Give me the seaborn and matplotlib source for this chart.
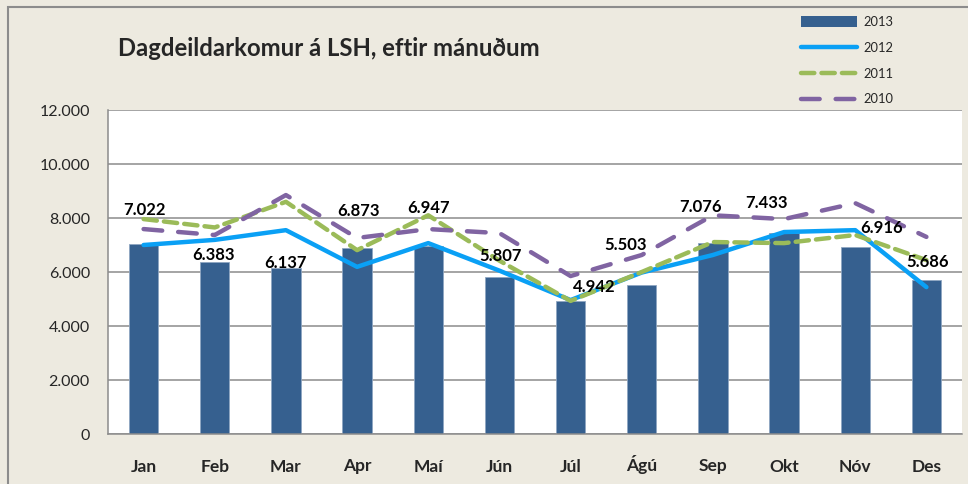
import numpy as np
import pandas as pd
import seaborn as sns
import matplotlib.pyplot as plt
from matplotlib.lines import Line2D
from matplotlib.patches import Patch, Rectangle
from matplotlib.ticker import FuncFormatter, FixedLocator

# gögn
manudir = ['Jan', 'Feb', 'Mar', 'Apr', 'Maí', 'Jún', 'Júl', 'Ágú', 'Sep', 'Okt', 'Nóv', 'Des']
ar_2013 = [7022, 6383, 6137, 6873, 6947, 5807, 4942, 5503, 7076, 7433, 6916, 5686]
ar_2012 = [7000, 7190, 7550, 6190, 7070, 6050, 4960, 5980, 6630, 7480, 7550, 5440]
ar_2011 = [7960, 7650, 8600, 6810, 8100, 6420, 4930, 6000, 7110, 7070, 7370, 6440]
ar_2010 = [7590, 7370, 8850, 7260, 7590, 7440, 5850, 6630, 8100, 7960, 8550, 7300]

# tilfærsla gildismerkja (punktar) - handvirkt eins og í frumritinu
merki_dx = [1, -1, 0, 1, 0, 1, 17, -12, -9, -13, 19, 1]
merki_dy = [25, 5, 4, 27, 28, 15, 10, 29, 26, 22, 14, 13]

df = pd.DataFrame({'manudur': manudir, 'nr': range(len(manudir)),
                   '2013': ar_2013, '2012': ar_2012, '2011': ar_2011, '2010': ar_2010})

bakgrunnur = '#EDEAE0'
sns.set_theme(style='white')
plt.rcParams['font.family'] = ['Lato', 'DejaVu Sans']

fig = plt.figure(figsize=(9.68, 4.84), dpi=100, facecolor=bakgrunnur)
ax = fig.add_axes([108 / 968, 50 / 484, 854 / 968, 324 / 484])
ax.set_facecolor('white')

# rammi um myndina
fig.patches.append(Rectangle((8 / 968, -0.1), 1.2, 1 - 7 / 484 + 0.1, transform=fig.transFigure,
                             fill=False, edgecolor='#8C8C8C', linewidth=1.5))

sns.barplot(data=df, x='nr', y='2013', color='#36608F', width=0.41, saturation=1,
            edgecolor='#8FA6C2', linewidth=0.6, ax=ax, zorder=2)

sns.lineplot(data=df, x='nr', y='2012', color='#0AA0F5', linewidth=3.2, ax=ax, zorder=3)
ax.lines[-1].set_solid_capstyle('round')
sns.lineplot(data=df, x='nr', y='2011', color='#9BBB59', linewidth=3.2, ax=ax, zorder=4)
ax.lines[-1].set_dashes((3, 1.6))
ax.lines[-1].set_dash_capstyle('round')
sns.lineplot(data=df, x='nr', y='2010', color='#8064A2', linewidth=3.2, ax=ax, zorder=5)
ax.lines[-1].set_dashes((4.2, 3.6))
ax.lines[-1].set_dash_capstyle('round')

# gildismerki
for i, v in enumerate(ar_2013):
    ax.annotate(f'{v:,}'.replace(',', '.'), (i, v), xytext=(merki_dx[i], merki_dy[i]),
                textcoords='offset points', ha='center', va='center',
                fontsize=12, fontweight='bold', color='black', zorder=6)

ax.set_ylim(0, 12000)
ax.set_xlim(-0.5, len(manudir) - 0.5)
ax.yaxis.set_major_locator(FixedLocator(np.arange(0, 12001, 2000)))
ax.yaxis.set_major_formatter(FuncFormatter(lambda v, p: f'{int(v):,}'.replace(',', '.')))
ax.grid(axis='y', color='#8C8C8C', linewidth=1.1, zorder=0)
ax.set_axisbelow(True)

ax.set_xticks(range(len(manudir)))
ax.set_xticklabels(manudir, fontsize=12.5, fontweight='bold', va='baseline')
ax.set_xticks(np.arange(-0.5, len(manudir), 1), minor=True)
ax.tick_params(axis='x', which='major', length=0, pad=27)
ax.tick_params(axis='x', which='minor', length=5, width=1, color='#8C8C8C', direction='out')
ax.tick_params(axis='y', length=5, width=1, color='#8C8C8C', direction='out', labelsize=11.5, pad=8)
ax.set_xlabel('')
ax.set_ylabel('')

for s in ['top', 'right']:
    ax.spines[s].set_visible(False)
for s in ['left', 'bottom']:
    ax.spines[s].set_color('#8C8C8C')
    ax.spines[s].set_linewidth(1.1)

fig.text(118 / 968, 1 - 48 / 484, 'Dagdeildarkomur á LSH, eftir mánuðum', fontsize=17.2,
         fontweight='bold', ha='left', va='center')

handles = [Patch(facecolor='#36608F', edgecolor='none'),
           Line2D([], [], color='#0AA0F5', linewidth=3.2, solid_capstyle='round'),
           Line2D([], [], color='#9BBB59', linewidth=3.2, dashes=(3, 1.6), dash_capstyle='round'),
           Line2D([], [], color='#8064A2', linewidth=3.2, dashes=(4.2, 3.6), dash_capstyle='round')]
leg = fig.legend(handles, ['2013', '2012', '2011', '2010'], loc='upper left',
                 bbox_to_anchor=(789 / 968, 1 - 4 / 484), frameon=False, fontsize=9.3,
                 handlelength=4.4, handleheight=0.9, handletextpad=0.45, labelspacing=1.08)

fig.savefig('out.png', dpi=100, facecolor=bakgrunnur)
